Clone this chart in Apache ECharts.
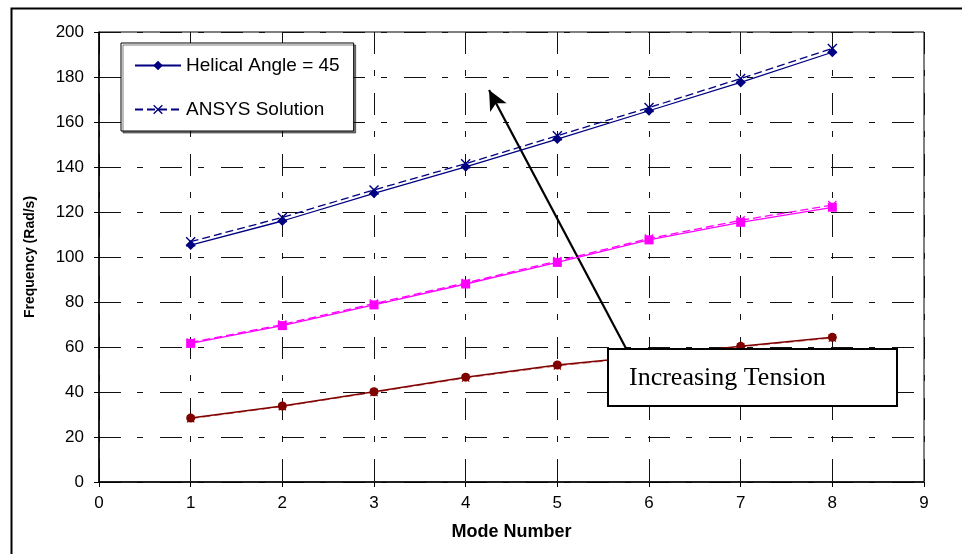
<!DOCTYPE html>
<html><head><meta charset="utf-8">
<script src="https://cdn.jsdelivr.net/npm/echarts@6/dist/echarts.min.js"></script>
<style>html,body{margin:0;padding:0;background:#fff}#c{width:962px;height:554px}</style>
</head><body><div id="c"></div>
<script>
var modes = [1,2,3,4,5,6,7,8];
var xTicks = [0,1,2,3,4,5,6,7,8,9];
var yTicks = [0,20,40,60,80,100,120,140,160,180,200];
var helical45 = [105.3,116.0,128.3,140.1,152.4,165.0,177.6,191.0];
var ansys45   = [106.8,117.6,129.8,141.5,153.9,166.4,179.3,192.7];
var seriesB   = [61.6,69.5,78.7,88.0,97.6,107.6,115.4,122.1];
var ansysB    = [62.0,70.0,79.3,88.5,98.2,108.2,116.3,123.1];
var seriesC   = [28.4,33.8,40.1,46.6,52.0,56.0,60.3,64.3];
var ansysC    = [28.1,33.5,39.8,46.2,51.6,55.7,60.0,64.0];
var annotationText = 'Increasing Tension';

function pts(v){ return modes.map(function(m,i){ return [m, v[i]]; }); }
var crossPath = 'path://M0,1L1,0L5,4L9,0L10,1L6,5L10,9L9,10L5,6L1,10L0,9L4,5Z';
var navy = '#000080', mag = '#FF00FF', red = '#800000';
var dashGrid = [22,16,6,17];

var chart = echarts.init(document.getElementById('c'));
chart.setOption({
  animation: false,
  textStyle: { fontFamily: 'Liberation Sans, Arial, sans-serif' },
  grid: { left: 99, right: 38, top: 32, bottom: 72, show: true, borderColor: '#000', borderWidth: 1 },
  xAxis: {
    type: 'value', min: 0, max: 9, interval: 1,
    name: 'Mode Number', nameLocation: 'middle', nameGap: 41,
    nameTextStyle: { fontWeight: 'bold', fontSize: 18, color: '#000' },
    axisLine: { lineStyle: { color: '#000', width: 1.5 } },
    axisTick: { show: true, length: 5, lineStyle: { color: '#000' } },
    axisLabel: { color: '#000', fontSize: 17, margin: 13 },
    splitLine: { show: true, lineStyle: { color: '#111', type: dashGrid, width: 1 } }
  },
  yAxis: {
    type: 'value', min: 0, max: 200, interval: 20,
    name: 'Frequency (Rad/s)', nameLocation: 'middle', nameGap: 62, nameRotate: 90,
    nameTextStyle: { fontWeight: 'bold', fontSize: 14, color: '#000' },
    axisLine: { show: true, lineStyle: { color: '#000', width: 1.5 } },
    axisTick: { show: true, length: 5, lineStyle: { color: '#000' } },
    axisLabel: { color: '#000', fontSize: 17, margin: 15 },
    splitLine: { show: true, lineStyle: { color: '#111', type: dashGrid, width: 1 } }
  },
  legend: {
    left: 121, top: 43, orient: 'vertical',
    data: ['Helical Angle = 45', 'ANSYS Solution'],
    backgroundColor: '#fff', borderColor: '#000', borderWidth: 1,
    padding: [13, 14, 12, 13], itemGap: 25, itemWidth: 46, itemHeight: 12,
    shadowColor: 'rgba(0,0,0,0.5)', shadowOffsetX: 2, shadowOffsetY: 2, shadowBlur: 0,
    textStyle: { fontSize: 19, color: '#000' }
  },
  series: [
    { name: 'Helical Angle = 45', type: 'line', data: pts(helical45), symbol: 'diamond', symbolSize: 10,
      itemStyle: { color: navy }, lineStyle: { color: navy, width: 1.3 }, z: 5,
      markLine: { silent: true, symbol: ['none', 'arrow'], symbolSize: [14, 20], animation: false,
        label: { show: false },
        lineStyle: { color: '#000', width: 2.2, type: 'solid' },
        data: [[ { coord: [5.77, 57.8] }, { coord: [4.255, 174.2] } ]] } },
    { name: 'ANSYS Solution', type: 'line', data: pts(ansys45), symbol: crossPath, symbolSize: 10,
      itemStyle: { color: navy }, lineStyle: { color: navy, width: 1.3, type: [8, 4] }, z: 4 },
    { name: 'Tension B', type: 'line', data: pts(seriesB), symbol: 'rect', symbolSize: 9,
      itemStyle: { color: mag }, lineStyle: { color: mag, width: 1.3 }, z: 5 },
    { name: 'Tension B ANSYS', type: 'line', data: pts(ansysB), symbol: crossPath, symbolSize: 9,
      itemStyle: { color: mag }, lineStyle: { color: mag, width: 1.3, type: [8, 4] }, z: 4 },
    { name: 'Tension C', type: 'line', data: pts(seriesC), symbol: 'circle', symbolSize: 9,
      itemStyle: { color: red }, lineStyle: { color: red, width: 1.5 }, z: 5 },
    { name: 'Tension C ANSYS', type: 'line', data: pts(ansysC), symbol: crossPath, symbolSize: 8,
      itemStyle: { color: red }, lineStyle: { color: '#c06060', width: 1, type: [8, 4] }, z: 4 }
  ],
  graphic: [
    { type: 'rect', left: 9, top: 6, z: 0, silent: true,
      shape: { x: 0, y: 0, width: 1000, height: 600 },
      style: { fill: 'none', stroke: '#000', lineWidth: 2 } },
    { type: 'rect', z: 100, silent: true,
      shape: { x: 608, y: 349, width: 289, height: 57 },
      style: { fill: '#fff', stroke: '#000', lineWidth: 2 } },
    { type: 'text', z: 101, silent: true, x: 629, y: 378,
      style: { text: annotationText, fill: '#000', font: '26px "Liberation Serif", "Times New Roman", serif', textVerticalAlign: 'middle' } }
  ]
});
</script></body></html>
